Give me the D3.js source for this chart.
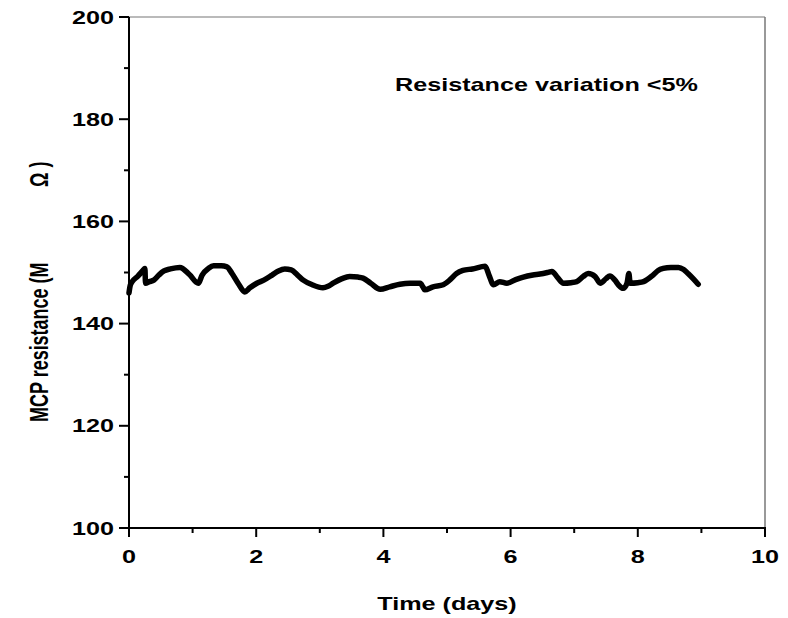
<!DOCTYPE html>
<html>
<head>
<meta charset="utf-8">
<script src="https://cdn.jsdelivr.net/npm/d3@7"></script>
<style>
html,body{margin:0;padding:0;background:#fff;}
text{font-family:"Liberation Sans",Arial,sans-serif;font-weight:bold;fill:#000;}
</style>
</head>
<body>
<svg id="chart" width="788" height="618"></svg>
<script>
const days = [0.0,0.02,0.05,0.14,0.22,0.25,0.26,0.32,0.39,0.47,0.55,0.65,0.80,0.95,1.09,1.15,1.25,1.33,1.45,1.54,1.62,1.72,1.82,1.90,2.01,2.12,2.25,2.35,2.45,2.55,2.65,2.74,2.88,3.05,3.13,3.21,3.35,3.47,3.60,3.68,3.80,3.95,4.10,4.26,4.42,4.58,4.62,4.65,4.78,4.94,5.05,5.15,5.25,5.40,5.60,5.66,5.73,5.83,5.94,6.08,6.20,6.35,6.46,6.58,6.65,6.74,6.83,6.95,7.04,7.14,7.22,7.33,7.41,7.50,7.56,7.64,7.70,7.77,7.83,7.86,7.88,8.00,8.09,8.24,8.32,8.40,8.52,8.64,8.72,8.79,8.87,8.95];
const resistance = [146.0,147.5,148.2,149.3,150.4,150.8,147.9,148.2,148.5,149.5,150.3,150.7,151.0,149.6,147.9,149.5,150.8,151.3,151.3,151.1,149.8,147.8,146.2,147.0,147.9,148.5,149.5,150.3,150.7,150.5,149.5,148.5,147.6,147.0,147.3,147.9,148.8,149.2,149.1,148.9,147.9,146.7,147.2,147.7,147.9,147.9,147.2,146.6,147.2,147.6,148.6,149.8,150.4,150.7,151.2,149.5,147.6,148.2,147.9,148.6,149.1,149.5,149.7,150.0,150.2,149.0,147.9,148.0,148.2,149.2,149.8,149.2,147.9,148.8,149.3,148.5,147.5,146.9,147.9,149.8,147.9,148.0,148.2,149.5,150.4,150.8,151.0,151.0,150.6,149.8,148.8,147.7];
const xTicks = [0,2,4,6,8,10];
const xMinorTicks = [1,3,5,7,9];
const yTicks = [100,120,140,160,180,200];
const yMinorTicks = [110,130,150,170,190];
const xLabel = "Time (days)";
const yLabelMain = "MCP resistance (M";
const yLabelUnit = "Ω )";
const annotation = "Resistance variation <5%";

const svg = d3.select("#chart");
const L = 129, R = 765, T = 17, B = 528;
const sx = 1.4;
const x = d3.scaleLinear().domain([0,10]).range([L,R]);
const y = d3.scaleLinear().domain([100,200]).range([B,T]);

// frame (top/right)
svg.append("line").attr("x1",L).attr("x2",R).attr("y1",T).attr("y2",T).attr("stroke","#777").attr("stroke-width",1.2);
svg.append("line").attr("x1",R).attr("x2",R).attr("y1",T).attr("y2",B).attr("stroke","#777").attr("stroke-width",1.5);

// x axis
const gx = svg.append("g");
gx.append("line").attr("x1",L).attr("x2",R+1).attr("y1",B).attr("y2",B).attr("stroke","#000").attr("stroke-width",2);
gx.selectAll(".maj").data(xTicks).enter().append("line")
  .attr("x1",d=>x(d)).attr("x2",d=>x(d)).attr("y1",B).attr("y2",B+9).attr("stroke","#000").attr("stroke-width",2);
gx.selectAll(".min").data(xMinorTicks).enter().append("line")
  .attr("x1",d=>x(d)).attr("x2",d=>x(d)).attr("y1",B).attr("y2",B+5).attr("stroke","#000").attr("stroke-width",2);
gx.selectAll(".lbl").data(xTicks).enter().append("text")
  .attr("transform",d=>`translate(${x(d)},563) scale(${sx},1)`)
  .attr("text-anchor","middle").attr("font-size",18).text(d=>d);

// y axis
const gy = svg.append("g");
gy.append("line").attr("x1",L).attr("x2",L).attr("y1",T).attr("y2",B+1).attr("stroke","#000").attr("stroke-width",2);
gy.selectAll(".maj").data(yTicks).enter().append("line")
  .attr("x1",L-10).attr("x2",L).attr("y1",d=>y(d)).attr("y2",d=>y(d)).attr("stroke","#000").attr("stroke-width",2);
gy.selectAll(".min").data(yMinorTicks).enter().append("line")
  .attr("x1",L-5).attr("x2",L).attr("y1",d=>y(d)).attr("y2",d=>y(d)).attr("stroke","#000").attr("stroke-width",2);
gy.selectAll(".lbl").data(yTicks).enter().append("text")
  .attr("transform",d=>`translate(114,${y(d)+6.5}) scale(${sx},1)`)
  .attr("text-anchor","end").attr("font-size",18).text(d=>d);

// axis titles
svg.append("text").attr("transform",`translate(48,422) scale(1.4,1) rotate(-90)`)
  .attr("text-anchor","start").attr("font-size",18).text(yLabelMain);
svg.append("text").attr("transform",`translate(48,187) scale(1.4,1) rotate(-90)`)
  .attr("text-anchor","start").attr("font-size",18).text(yLabelUnit);
svg.append("text").attr("transform",`translate(447,610) scale(${sx},1)`)
  .attr("text-anchor","middle").attr("font-size",18).text(xLabel);

// annotation
svg.append("text").attr("transform",`translate(395,91) scale(${sx},1)`)
  .attr("text-anchor","start").attr("font-size",18).text(annotation);

// data line
const pts = days.map((d,i)=>[d,resistance[i]]);
const line = d3.line().x(d=>x(d[0])).y(d=>y(d[1])).curve(d3.curveMonotoneX);
svg.append("path").datum(pts).attr("d",line).attr("fill","none")
  .attr("stroke","#000").attr("stroke-width",5.5).attr("stroke-linejoin","round").attr("stroke-linecap","round");
</script>
</body>
</html>
